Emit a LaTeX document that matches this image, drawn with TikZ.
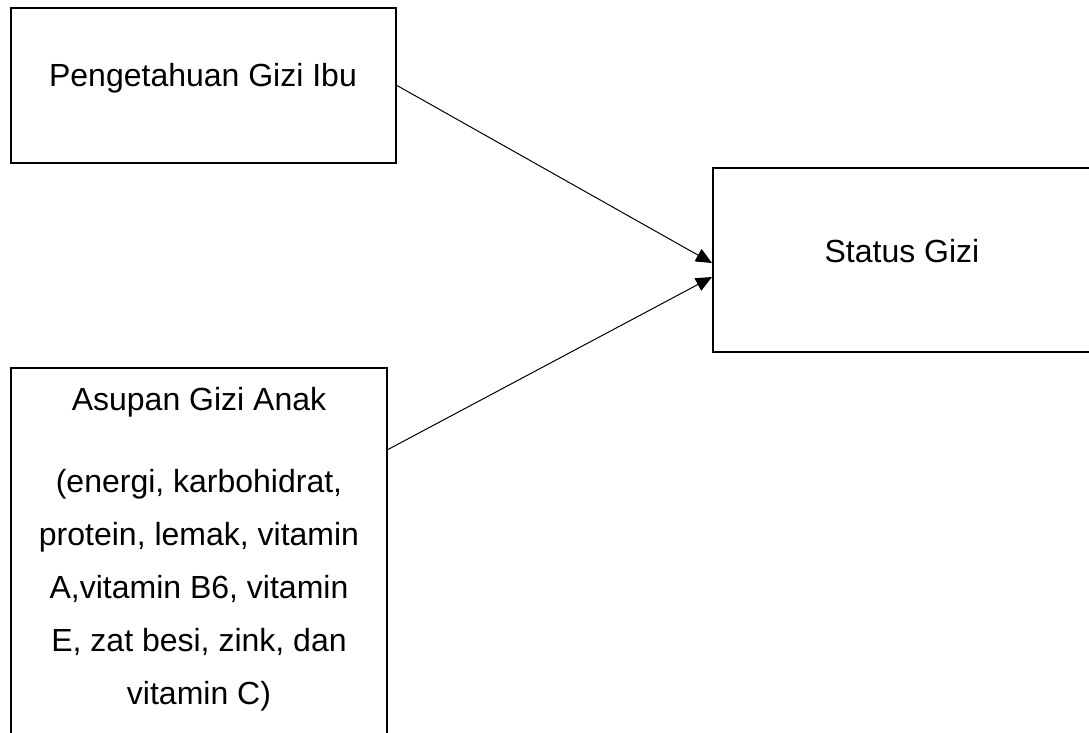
\documentclass[tikz,border=0pt]{standalone}
\usepackage{fontspec}
\setmainfont{Liberation Sans}
\usetikzlibrary{arrows.meta}
\begin{document}
\begin{tikzpicture}[x=1pt,y=-1pt,
  box/.style={draw, line width=2pt, inner sep=0pt},
  lbl/.style={font=\fontsize{32}{38}\selectfont, anchor=base, inner sep=0pt},
  conn/.style={line width=1pt, -{Triangle[length=16pt,width=14pt]}}]
\useasboundingbox (0,0) rectangle (1089,733);
\node[box, minimum width=385pt, minimum height=155pt] (b1) at (203.5,85.5) {};
\node[lbl] (t1) at (203,87) {Pengetahuan Gizi Ibu};
\node[box, minimum width=378pt, minimum height=184pt] (b2) at (902,260) {};
\node[lbl] (t2) at (902,262) {Status Gizi};
\node[box, minimum width=376pt, minimum height=380pt] (b3) at (199,558) {};
\node[lbl] (l1) at (199,410) {Asupan Gizi Anak};
\node[lbl] (l2) at (199,492) {(energi, karbohidrat,};
\node[lbl] (l3) at (199,545) {protein, lemak, vitamin};
\node[lbl] (l4) at (199,598) {A,vitamin B6, vitamin};
\node[lbl] (l5) at (199,651) {E, zat besi, zink, dan};
\node[lbl] (l6) at (199,704) {vitamin C)};
\coordinate (e1) at (712,263);
\coordinate (s2) at (387,450);
\coordinate (e2) at (712,277);
\draw[conn] (b1.east) -- (e1);
\draw[conn] (s2) -- (e2);
\end{tikzpicture}
\end{document}
